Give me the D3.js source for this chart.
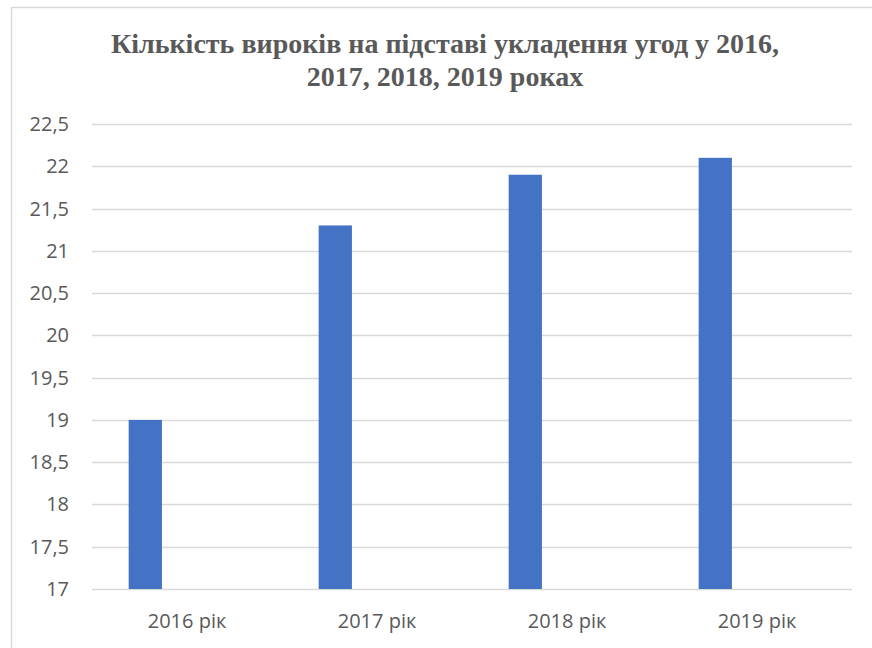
<!DOCTYPE html>
<html>
<head>
<meta charset="utf-8">
<script src="https://cdn.jsdelivr.net/npm/d3@7"></script>
<style>
  body { margin: 0; background: #fff; }
</style>
</head>
<body>
<div class="chart"></div>
<script>
        // data
        var titleLines = ["Кількість вироків на підставі укладення угод у 2016,", "2017, 2018, 2019 роках"];
        var years = ["2016 рік", "2017 рік", "2018 рік", "2019 рік"];
        var verdicts = [19, 21.3, 21.9, 22.1];
        var yTicks = [17, 17.5, 18, 18.5, 19, 19.5, 20, 20.5, 21, 21.5, 22, 22.5];

        var width = 872, height = 648;
        var plot = { left: 92, right: 852, top: 124, bottom: 589 };

        var svg = d3.select(".chart")
            .append("svg")
            .attr("width", width)
            .attr("height", height)

        // chart frame (cut off at right/bottom like the original)
        svg.append("rect")
            .attr("x", 11.5)
            .attr("y", 7.5)
            .attr("width", width + 20)
            .attr("height", height + 20)
            .attr("fill", "none")
            .attr("stroke", "#d9d9d9")
            .attr("stroke-width", 1.5)

        // title
        svg.append("text")
            .attr("x", 445)
            .attr("y", 53)
            .attr("text-anchor", "middle")
            .style("font-family", "'Liberation Serif', 'Times New Roman', serif")
            .style("font-weight", "bold")
            .style("font-size", "28px")
            .style("fill", "#595959")
            .selectAll("tspan")
            .data(titleLines)
            .join("tspan")
            .attr("x", 445)
            .attr("dy", function (d, i) { return i == 0 ? 0 : 33 })
            .text(function (d) { return d })

        var x = d3.scaleBand()
            .domain(years)
            .range([plot.left, plot.right])

        var y = d3.scaleLinear()
            .domain([17, 22.5])
            .range([plot.bottom, plot.top]);

        // gridlines
        svg.append("g")
            .selectAll("line")
            .data(yTicks)
            .join("line")
            .attr("x1", plot.left)
            .attr("x2", plot.right)
            .attr("y1", function (d) { return Math.round(y(d)) + 0.5 })
            .attr("y2", function (d) { return Math.round(y(d)) + 0.5 })
            .attr("stroke", "#d9d9d9")
            .attr("stroke-width", 1.3)

        // y labels
        var fmt = function (d) { return String(d).replace(".", ",") }
        svg.append("g")
            .selectAll("text")
            .data(yTicks)
            .join("text")
            .attr("x", 69)
            .attr("y", function (d) { return y(d) + 7 })
            .attr("text-anchor", "end")
            .style("font-family", "'Open Sans', 'Noto Sans', sans-serif")
            .style("font-size", "20px")
            .style("fill", "#595959")
            .text(fmt)

        // bars (first of a clustered group, so they sit left in each band)
        svg.append("g")
            .selectAll("rect")
            .data(verdicts)
            .join("rect")
            .attr("x", function (d, i) { return x(years[i]) + x.bandwidth() * 0.193 })
            .attr("width", x.bandwidth() * 0.175)
            .attr("y", function (d) { return y(d) })
            .attr("height", function (d) { return y(17) - y(d) })
            .attr("fill", "#4472c4")

        // x labels
        svg.append("g")
            .selectAll("text")
            .data(years)
            .join("text")
            .attr("x", function (d) { return x(d) + x.bandwidth() / 2 })
            .attr("y", 628)
            .attr("text-anchor", "middle")
            .style("font-family", "'Open Sans', 'Noto Sans', sans-serif")
            .style("font-size", "20px")
            .style("fill", "#595959")
            .text(function (d) { return d })
</script>
</body>
</html>
